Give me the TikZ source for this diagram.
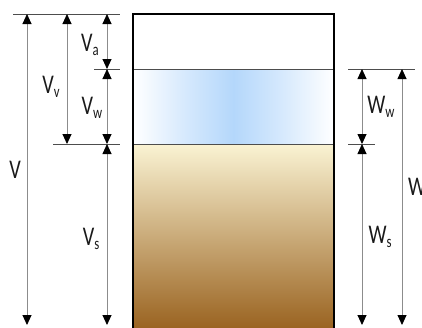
\documentclass[tikz,border=0pt]{standalone}
\usepackage{fontspec}
\setmainfont{Carlito}
\usepackage{graphicx}
\usetikzlibrary{arrows.meta,positioning}
\definecolor{phink}   {HTML}{1A1A1A}
\definecolor{phgrey}  {HTML}{8C8C8C}
\definecolor{phrule}  {HTML}{4D4D4D}
\definecolor{phwater} {HTML}{B4D7FB}
\definecolor{phsoilA} {HTML}{FAF3D3}
\definecolor{phsoilM} {HTML}{CDAE7E}
\definecolor{phsoilB} {HTML}{99621F}
\pgfdeclarehorizontalshading{phwatershade}{100bp}{
  color(0bp)=(white); color(25bp)=(white); color(38bp)=(phwater!55!white);
  color(50bp)=(phwater); color(62bp)=(phwater!55!white);
  color(75bp)=(white); color(100bp)=(white)}
\newcommand\phsym[2]{\scalebox{0.75}[1]{#1\raisebox{-0.3ex}{\fontsize{17}{17}\selectfont #2}}}
\tikzset{
  phdim/.style={draw=phgrey, line width=0.9pt,
                {Triangle[length=10pt,width=9pt,color=black]}-{Triangle[length=10pt,width=9pt,color=black]}},
  phext/.style={draw=phrule, line width=0.9pt},
  phwall/.style={draw=black, line width=2.6pt},
  phiface/.style={draw=phrule, line width=0.9pt},
  phlabel/.style={font=\fontsize{27}{27}\selectfont, text=phink, inner sep=0pt},
}
\begin{document}
\begin{tikzpicture}[x=1pt,y=-1pt]
  \useasboundingbox (0,0) rectangle (422,327);
  % phases
  \fill[white] (133,14) rectangle (334,69);
  \shade[shading=phwatershade] (133,69) rectangle (334,144);
  \shade[top color=phsoilA, middle color=phsoilM, bottom color=phsoilB] (133,144) rectangle (334,330);
  \draw[phiface] (133,69) -- (334,69);
  \draw[phiface] (133,144) -- (334,144);
  \draw[phwall] (133,332) -- (133,14) -- (334,14) -- (334,332);

  % extension lines, left
  \draw[phext] (13,14) -- (120,14);
  \draw[phext] (94,69) -- (120,69);
  \draw[phext] (53,144) -- (120,144);
  % extension lines, right
  \draw[phext] (348,69) -- (415,69);
  \draw[phext] (348,144) -- (375,144);

  % dimension ends
  \coordinate (Vtop) at (27,14);    \coordinate (Vbot) at (27,325);
  \coordinate (Vvtop) at (67,14);   \coordinate (Vvbot) at (67,144);
  \coordinate (Vatop) at (107,14);  \coordinate (Vamid) at (107,69);
  \coordinate (Vwbot) at (107,144); \coordinate (Vsbot) at (107,325);
  \coordinate (Wwtop) at (362,69);  \coordinate (Wwbot) at (362,144);
  \coordinate (Wsbot) at (362,325);
  \coordinate (Wtop) at (402,69);   \coordinate (Wbot) at (402,325);

  \draw[phdim] (Vtop) -- (Vbot);
  \draw[phdim] (Vvtop) -- (Vvbot);
  \draw[phdim] (Vatop) -- (Vamid);
  \draw[phdim] (Vamid) -- (Vwbot);
  \draw[phdim] (Vwbot) -- (Vsbot);
  \draw[phdim] (Wwtop) -- (Wwbot);
  \draw[phdim] (Wwbot) -- (Wsbot);
  \draw[phdim] (Wtop) -- (Wbot);

  % labels
  \node[phlabel] (lV)  at (15,172)  {\phsym{V}{}};
  \node[phlabel] (lVv) at (51,87)   {\phsym{V}{v}};
  \node[phlabel] (lVa) at (90,45)   {\phsym{V}{a}};
  \node[phlabel] (lVw) at (92,108)  {\phsym{V}{w}};
  \node[phlabel] (lVs) at (91,239)  {\phsym{V}{s}};
  \node[phlabel] (lWw) at (381,107) {\phsym{W}{w}};
  \node[phlabel] (lWs) at (380,237) {\phsym{W}{s}};
  \node[phlabel, anchor=west] (lW) at (408,189) {\phsym{W}{}};
\end{tikzpicture}
\end{document}
